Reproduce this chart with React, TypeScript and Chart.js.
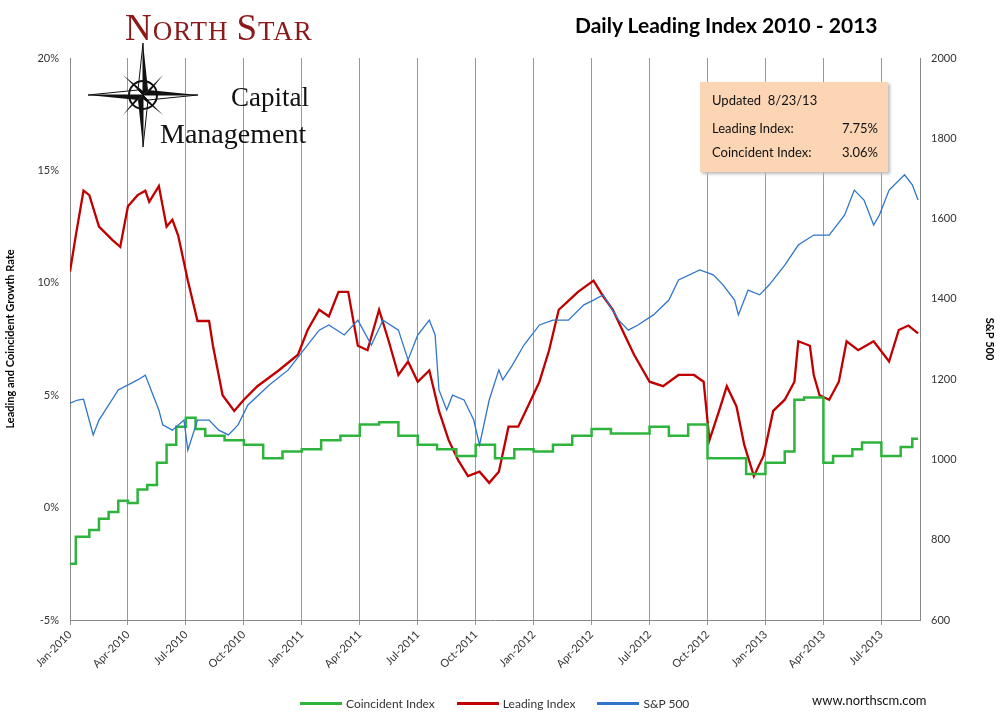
import React, { useEffect, useRef } from "react";
import Chart from "chart.js/auto";

const leadX = [0,0.3,0.7,1,1.5,2.2,2.6,3,3.5,3.9,4.1,4.6,5,5.3,5.6,6.1,6.6,7.2,7.4,7.9,8.5,9,9.7,10.8,11.8,12.3,12.9,13.4,13.9,14.4,14.9,15.4,16,16.5,17,17.5,18,18.6,19.1,19.6,20.1,20.6,21.2,21.7,22.2,22.7,23.2,23.7,24.3,24.8,25.3,25.8,26.3,27.1,27.6,28.1,28.7,29.2,30,30.7,31.5,32.3,32.8,33.1,33.6,34,34.5,34.9,35.4,35.9,36.4,37,37.5,37.7,38.3,38.5,38.8,39.3,39.8,40.2,40.8,41.6,42.4,42.9,43.4,43.9];
const leadY = [10.5,12.1,14.1,13.9,12.5,11.9,11.6,13.4,13.9,14.1,13.6,14.3,12.5,12.8,12.1,10.1,8.3,8.3,7.2,5.0,4.3,4.8,5.4,6.1,6.8,7.9,8.8,8.5,9.6,9.6,7.2,7.0,8.8,7.4,5.9,6.5,5.6,6.1,4.3,3.0,2.1,1.4,1.6,1.1,1.6,3.6,3.6,4.5,5.6,7.0,8.8,9.2,9.6,10.1,9.4,8.8,7.7,6.8,5.6,5.4,5.9,5.9,5.6,3.0,4.3,5.4,4.5,2.8,1.4,2.3,4.3,4.8,5.6,7.4,7.2,5.9,5.0,4.8,5.6,7.4,7.0,7.4,6.5,7.9,8.1,7.75];

const coinX = [0,0.3,1,1.5,2,2.5,3,3.5,4,4.5,5,5.5,6,6.5,7,8,9,10,11,12,13,14,15,16,17,18,19,20,21,22,23,24,25,26,27,28,29,30,31,32,33,34,35,36,37,37.5,38,38.8,39,39.5,40.5,41,42,43,43.6,43.9];
const coinY = [-2.5,-1.3,-1.0,-0.5,-0.2,0.3,0.2,0.8,1.0,2.0,2.8,3.6,4.0,3.5,3.2,3.0,2.8,2.2,2.5,2.6,3.0,3.2,3.7,3.8,3.2,2.8,2.6,2.3,2.8,2.2,2.6,2.5,2.8,3.2,3.5,3.3,3.3,3.6,3.2,3.7,2.2,2.2,1.5,2.0,2.5,4.8,4.9,4.9,2.0,2.3,2.6,2.9,2.3,2.7,3.06,3.06];

const spxX = [0,0.4,0.7,1.2,1.5,2.5,3.5,3.9,4.3,4.6,4.8,5.3,5.9,6.1,6.6,7.2,7.7,8.2,8.7,9.2,10.3,11.3,12.1,12.9,13.4,14.2,14.9,15.6,16.2,17,17.5,18,18.6,18.9,19.1,19.5,19.8,20.4,20.9,21.2,21.7,22.2,22.4,22.9,23.5,24.3,25,25.8,26.6,27.1,27.6,28.4,28.9,29.4,30.2,31,31.5,32.6,33.3,33.8,34.4,34.6,35.1,35.7,36.2,37,37.7,38.5,39.3,40.1,40.6,41.1,41.6,41.9,42.4,43.2,43.6,43.9];
const spxY = [1140,1148,1150,1061,1098,1173,1198,1210,1160,1123,1086,1073,1098,1023,1098,1098,1073,1061,1086,1135,1185,1223,1273,1322,1335,1310,1347,1285,1347,1322,1248,1310,1347,1310,1173,1123,1160,1148,1098,1036,1148,1223,1198,1235,1285,1335,1347,1347,1385,1397,1410,1347,1322,1335,1360,1397,1447,1472,1460,1435,1397,1360,1422,1410,1435,1484,1534,1559,1559,1609,1671,1646,1584,1609,1671,1709,1684,1646];

const monthNames = ["Jan","Feb","Mar","Apr","May","Jun","Jul","Aug","Sep","Oct","Nov","Dec"];
const leftTicks = [-5,0,5,10,15,20];

const pts = (xs: number[], ys: number[]) => xs.map((x, i) => ({ x, y: ys[i] }));
const FONT = "Lato, 'Open Sans', sans-serif";

export default function App() {
  const ref = useRef<HTMLCanvasElement>(null);
  useEffect(() => {
    const c = new Chart(ref.current!, {
      type: "line",
      data: {
        datasets: [
          { label: "S&P 500", data: pts(spxX, spxY), yAxisID: "y2", borderColor: "#2f75c9", borderWidth: 1.3, pointRadius: 0, tension: 0 },
          { label: "Coincident Index", data: pts(coinX, coinY), yAxisID: "y", borderColor: "#2eb43c", borderWidth: 2.5, pointRadius: 0, stepped: "before" },
          { label: "Leading Index", data: pts(leadX, leadY), yAxisID: "y", borderColor: "#c00000", borderWidth: 2.3, pointRadius: 0, tension: 0 },
        ],
      },
      options: {
        animation: false,
        responsive: false,
        layout: { padding: { top: 58, left: 0, right: 0, bottom: 0 } },
        plugins: { legend: { display: false }, tooltip: { enabled: false } },
        scales: {
          x: {
            type: "linear", min: 0, max: 44,
            afterBuildTicks: (s: any) => { s.ticks = [0,3,6,9,12,15,18,21,24,27,30,33,36,39,42].map(v => ({ value: v })); },
            afterFit: (s: any) => { s.height = 104; },
            ticks: {
              maxRotation: 45, minRotation: 45, color: "#333", font: { family: FONT, size: 11 },
              callback: (v: any) => monthNames[v % 12] + "-" + (2010 + Math.floor(v / 12)),
            },
            grid: { color: "#999", drawTicks: true, tickLength: 5 },
            border: { color: "#888" },
          },
          y: {
            position: "left", min: -5, max: 20,
            afterBuildTicks: (s: any) => { s.ticks = leftTicks.map(v => ({ value: v })); },
            afterFit: (s: any) => { s.width = 70; },
            ticks: { color: "#333", font: { family: FONT, size: 11 }, callback: (v: any) => v + "%" },
            grid: { display: false },
            border: { color: "#888" },
            title: { display: true, text: "Leading and Coincident Growth Rate", font: { family: FONT, size: 11, weight: "bold" }, color: "#000" },
          },
          y2: {
            position: "right", min: 600, max: 2000,
            ticks: { stepSize: 200, color: "#333", font: { family: FONT, size: 11 }, callback: (v: any) => String(v) },
            afterFit: (s: any) => { s.width = 80; },
            grid: { display: false },
            border: { color: "#888" },
            title: { display: true, text: "S&P 500", font: { family: FONT, size: 11, weight: "bold" }, color: "#000" },
          },
        },
      } as any,
    });
    return () => c.destroy();
  }, []);

  const abs = (s: React.CSSProperties): React.CSSProperties => ({ position: "absolute", ...s });
  return (
    <div style={{ position: "absolute", left: 0, top: 0, width: 1000, height: 724, background: "#fff", fontFamily: FONT, overflow: "hidden" }}>
      <canvas ref={ref} width={1000} height={724} style={{ position: "absolute", left: 0, top: 0 }} />
      <div style={abs({ left: 575, top: 12, fontSize: 21, fontWeight: "bold", color: "#000" })}>Daily Leading Index 2010 - 2013</div>
      <div style={abs({ left: 125, top: 6, fontFamily: "'Liberation Serif', serif", color: "#8b1a1a", fontSize: 27, letterSpacing: 1 })}>
        <span style={{ fontSize: 37 }}>N</span>ORTH <span style={{ fontSize: 37 }}>S</span>TAR
      </div>
      <div style={abs({ left: 231, top: 82, fontFamily: "'Liberation Serif', serif", fontSize: 27, color: "#111" })}>Capital</div>
      <div style={abs({ left: 160, top: 118, fontFamily: "'Liberation Serif', serif", fontSize: 28, color: "#111" })}>Management</div>
      <svg style={abs({ left: 88, top: 40 })} width={110} height={110} viewBox="-55 -55 110 110">
        <polygon points="0,-52 5,-5 0,0" fill="#111" /><polygon points="0,-52 -5,-5 0,0" fill="#fff" stroke="#111" />
        <polygon points="0,52 -5,5 0,0" fill="#111" /><polygon points="0,52 5,5 0,0" fill="#fff" stroke="#111" />
        <polygon points="-55,0 -5,-5 0,0" fill="#fff" stroke="#111" /><polygon points="-55,0 -5,5 0,0" fill="#111" />
        <polygon points="55,0 5,5 0,0" fill="#fff" stroke="#111" /><polygon points="55,0 5,-5 0,0" fill="#111" />
        <polygon points="-20,-20 0,-4 0,0" fill="#111" /><polygon points="20,-20 4,0 0,0" fill="#111" />
        <polygon points="-20,20 -4,0 0,0" fill="#111" /><polygon points="20,20 0,4 0,0" fill="#111" />
        <circle r="14" fill="none" stroke="#111" strokeWidth="2" />
      </svg>
      <div style={abs({ left: 700, top: 82, width: 188, height: 90, background: "#fcd5b4", boxShadow: "2px 2px 3px #bbb", fontSize: 13, color: "#111" })}>
        <div style={abs({ left: 12, top: 10 })}>Updated&nbsp; 8/23/13</div>
        <div style={abs({ left: 12, top: 38 })}>Leading Index:</div>
        <div style={abs({ right: 10, top: 38 })}>7.75%</div>
        <div style={abs({ left: 12, top: 62 })}>Coincident Index:</div>
        <div style={abs({ right: 10, top: 62 })}>3.06%</div>
      </div>
      <div style={abs({ left: 300, top: 696, fontSize: 12, color: "#333", display: "flex", gap: 22, alignItems: "center" })}>
        {[["#2eb43c","Coincident Index"],["#c00000","Leading Index"],["#2f75c9","S&P 500"]].map(([c, t]) => (
          <span key={t} style={{ display: "flex", alignItems: "center", gap: 4 }}>
            <span style={{ width: 42, height: 3, background: c, display: "inline-block" }} />{t}
          </span>
        ))}
      </div>
      <div style={abs({ left: 812, top: 692, fontSize: 13, color: "#111" })}>www.northscm.com</div>
    </div>
  );
}
